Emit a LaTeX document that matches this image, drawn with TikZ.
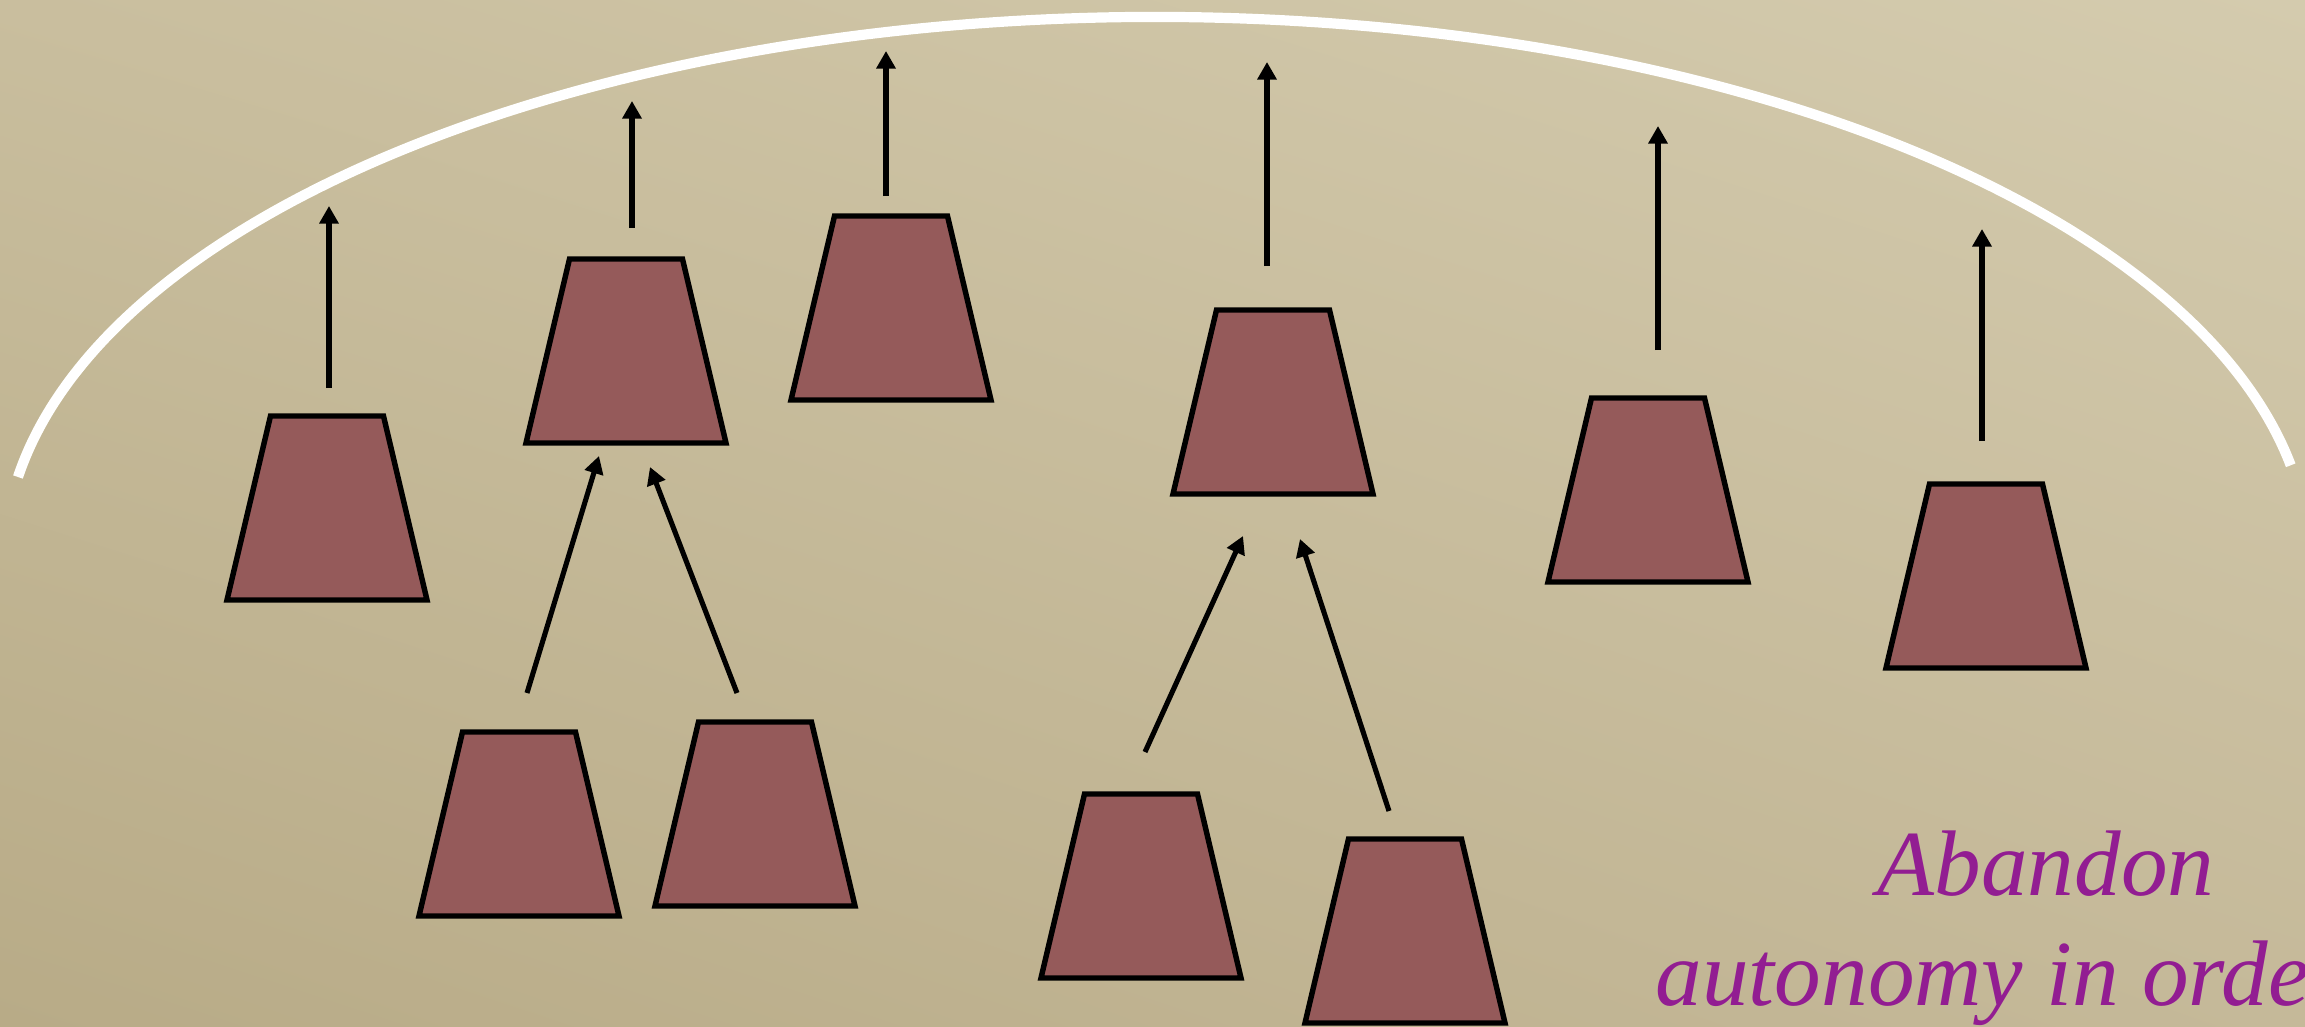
\documentclass[tikz,border=0pt]{standalone}
\usepackage{fontspec}
\setmainfont{Liberation Serif}
\usetikzlibrary{arrows.meta,shadings}
\definecolor{bgUL}{HTML}{C9BE9E}
\definecolor{bgUR}{HTML}{D4CBAE}
\definecolor{bgLL}{HTML}{B8AB87}
\definecolor{bgLR}{HTML}{C5B999}
\definecolor{cupfill}{HTML}{955A5A}
\definecolor{txtpurple}{HTML}{921D92}
\tikzset{
  cupst/.style={draw=black, line width=1.55pt, fill=cupfill},
  arr/.style={draw=black, line width=1.45pt, -{Triangle[length=5pt,width=5.3pt]}},
  rim/.style={draw=white, line width=2.9pt},
  lbl/.style={text=txtpurple, font=\fontsize{26.5}{32}\selectfont\itshape, inner sep=0pt, anchor=base west}
}
% cup: name, centre x, centre y (top 113 wide, bottom 200 wide, 184 high)
\newcommand\cupat[3]{%
  \coordinate (#1) at (#2,#3);
  \filldraw[cupst] (#1) ++(-56.5,-92) -- ++(113,0) -- ++(43.5,184) -- ++(-200,0) -- cycle;}
\begin{document}
\begin{tikzpicture}[x=0.01cm,y=-0.01cm]
\useasboundingbox (0,0) rectangle (2305,1027);
\clip (0,0) rectangle (2305,1027);
\shade[upper left=bgUL, upper right=bgUR, lower left=bgLL, lower right=bgLR] (0,0) rectangle (2305,1027);

% white rim
\coordinate (rimL) at (18,477);
\draw[rim] (rimL) arc[start angle=171, end angle=10.25, x radius=11.52cm, y radius=5.45cm];

% cups
\cupat{t1}{327}{508}
\cupat{t2}{626}{351}
\cupat{t3}{891}{308}
\cupat{t4}{1273}{402}
\cupat{t5}{1648}{490}
\cupat{t6}{1986}{576}
\cupat{t7}{519}{824}
\cupat{t8}{755}{814}
\cupat{t9}{1141}{886}
\cupat{t10}{1405}{931}

% arrow end points
\coordinate (s1) at (329,388);  \coordinate (e1) at (329,206);
\coordinate (s2) at (632,228);  \coordinate (e2) at (632,101);
\coordinate (s3) at (886,196);  \coordinate (e3) at (886,51);
\coordinate (s4) at (1267,266); \coordinate (e4) at (1267,62);
\coordinate (s5) at (1658,350); \coordinate (e5) at (1658,126);
\coordinate (s6) at (1982,441); \coordinate (e6) at (1982,229);
\coordinate (d1s) at (527,693);  \coordinate (d1e) at (599,456);
\coordinate (d2s) at (737,693);  \coordinate (d2e) at (650,467);
\coordinate (d3s) at (1145,752); \coordinate (d3e) at (1243,536);
\coordinate (d4s) at (1389,811); \coordinate (d4e) at (1300,539);

\draw[arr] (s1) -- (e1);
\draw[arr] (s2) -- (e2);
\draw[arr] (s3) -- (e3);
\draw[arr] (s4) -- (e4);
\draw[arr] (s5) -- (e5);
\draw[arr] (s6) -- (e6);
\draw[arr] (d1s) -- (d1e);
\draw[arr] (d2s) -- (d2e);
\draw[arr] (d3s) -- (d3e);
\draw[arr] (d4s) -- (d4e);

% text
\node[lbl] (l1) at (1877,895) {Abandon};
\node[lbl] (l2) at (1655,1005) {autonomy in orde};
\end{tikzpicture}
\end{document}
